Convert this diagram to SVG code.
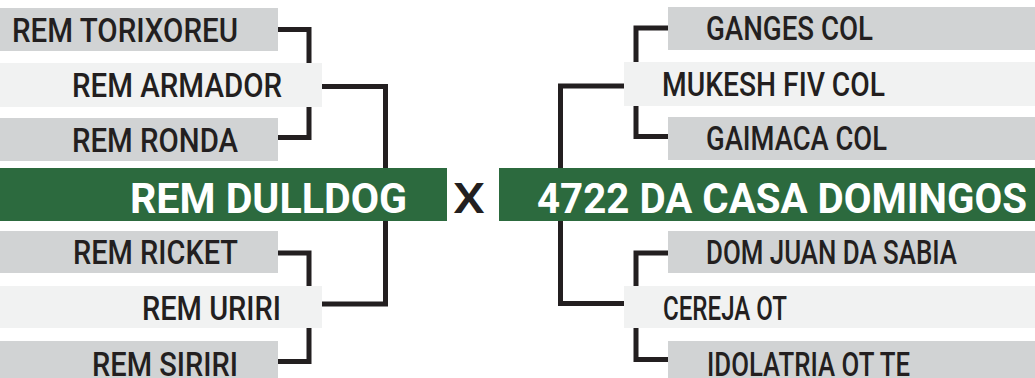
<svg xmlns="http://www.w3.org/2000/svg" width="1035" height="378" viewBox="0 0 1035 378">
  <style>
    .g { fill: #d1d3d4; }
    .l { fill: #f1f2f2; }
    .v { fill: #2c6a3e; }
    .t { font-family: Roboto, "Liberation Sans", sans-serif; font-weight: 500; font-size: 33px; fill: #231f20; }
    .w { font-family: Roboto, "Liberation Sans", sans-serif; font-weight: 700; font-size: 43px; fill: #ffffff; }
    .x { font-family: Roboto, "Liberation Sans", sans-serif; font-weight: 500; font-size: 43px; fill: #231f20; }
    .c { fill: none; stroke: #231f20; stroke-width: 5; stroke-linejoin: miter; stroke-linecap: butt; }
  </style>
  <rect width="1035" height="378" fill="#ffffff"/>
  <g id="connectors">
    <path class="c" d="M275 29.5 H309 V137.5 H275"/>
    <path class="c" d="M318 86.5 H385.5 V304 H318"/>
    <path class="c" d="M275 253 H309 V361.5 H275"/>
    <path class="c" d="M671 28 H636 V136.5 H671"/>
    <path class="c" d="M628 86 H560.5 V303.5 H628"/>
    <path class="c" d="M671 253 H636 V359.5 H671"/>
  </g>
  <g id="rem-torixoreu"><rect class="g" x="0" y="8" width="278" height="43"/><text class="t" x="12" y="41.5" textLength="226" lengthAdjust="spacingAndGlyphs">REM TORIXOREU</text></g>
  <g id="rem-armador"><rect class="l" x="0" y="63" width="322" height="44"/><text class="t" x="72" y="96.5" textLength="210" lengthAdjust="spacingAndGlyphs">REM ARMADOR</text></g>
  <g id="rem-ronda"><rect class="g" x="0" y="118" width="278" height="43"/><text class="t" x="72" y="152" textLength="166" lengthAdjust="spacingAndGlyphs">REM RONDA</text></g>
  <g id="rem-dulldog"><rect class="v" x="0" y="168" width="447" height="53"/><text class="w" x="130" y="213" textLength="277" lengthAdjust="spacingAndGlyphs">REM DULLDOG</text></g>
  <g id="rem-ricket"><rect class="g" x="0" y="231" width="278" height="42"/><text class="t" x="73" y="263.5" textLength="165" lengthAdjust="spacingAndGlyphs">REM RICKET</text></g>
  <g id="rem-uriri"><rect class="l" x="0" y="286" width="322" height="42"/><text class="t" x="142" y="320" textLength="139" lengthAdjust="spacingAndGlyphs">REM URIRI</text></g>
  <g id="rem-siriri"><rect class="g" x="0" y="341" width="278" height="37"/><text class="t" x="92" y="375.5" textLength="146" lengthAdjust="spacingAndGlyphs">REM SIRIRI</text></g>
  <g id="versus"><text class="x" x="453" y="213" textLength="32" lengthAdjust="spacingAndGlyphs">X</text></g>
  <g id="ganges-col"><rect class="g" x="668" y="7" width="367" height="43"/><text class="t" x="706" y="39.5" textLength="167" lengthAdjust="spacingAndGlyphs">GANGES COL</text></g>
  <g id="mukesh-fiv-col"><rect class="l" x="624" y="62" width="411" height="44"/><text class="t" x="662" y="95.5" textLength="223" lengthAdjust="spacingAndGlyphs">MUKESH FIV COL</text></g>
  <g id="gaimaca-col"><rect class="g" x="668" y="117" width="367" height="43"/><text class="t" x="706" y="150" textLength="181" lengthAdjust="spacingAndGlyphs">GAIMACA COL</text></g>
  <g id="casa-domingos"><rect class="v" x="499" y="168" width="536" height="53"/><text class="w" x="537" y="213" textLength="490" lengthAdjust="spacingAndGlyphs">4722 DA CASA DOMINGOS</text></g>
  <g id="dom-juan-da-sabia"><rect class="g" x="668" y="231" width="367" height="42"/><text class="t" x="706" y="263.5" textLength="251" lengthAdjust="spacingAndGlyphs">DOM JUAN DA SABIA</text></g>
  <g id="cereja-ot"><rect class="l" x="624" y="286" width="411" height="42"/><text class="t" x="663" y="320" textLength="124" lengthAdjust="spacingAndGlyphs">CEREJA OT</text></g>
  <g id="idolatria-ot-te"><rect class="g" x="668" y="341" width="367" height="37"/><text class="t" x="707" y="375.5" textLength="203" lengthAdjust="spacingAndGlyphs">IDOLATRIA OT TE</text></g>
</svg>
